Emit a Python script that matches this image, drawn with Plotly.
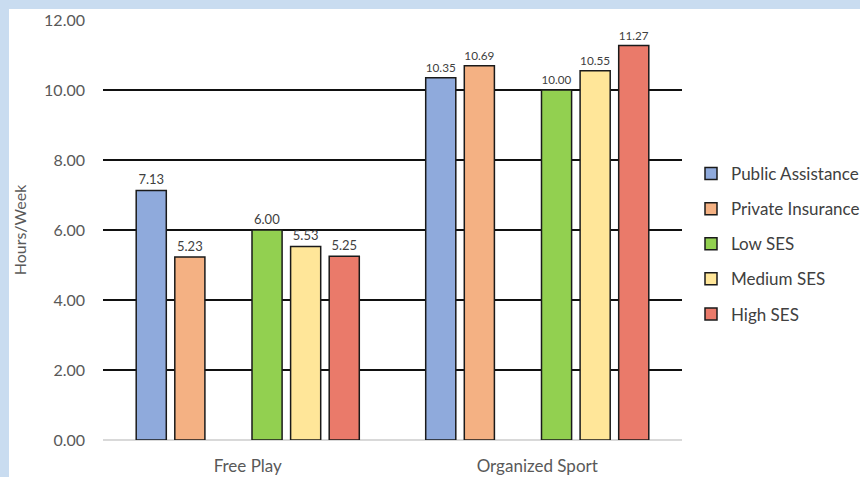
import plotly.graph_objects as go

categories = ["Free Play", "Organized Sport"]
series_names = ["Public Assistance", "Private Insurance", "Low SES", "Medium SES", "High SES"]
public_assistance = [7.13, 10.35]
private_insurance = [5.23, 10.69]
low_ses = [6.00, 10.00]
medium_ses = [5.53, 10.55]
high_ses = [5.25, 11.27]
colors = ["#8faadc", "#f4b183", "#92d050", "#ffe699", "#ea7a6a"]
y_ticks = [0, 2, 4, 6, 8, 10, 12]

series_values = [public_assistance, private_insurance, low_ses, medium_ses, high_ses]

fig = go.Figure()
order = [0, 1, None, 2, 3, 4]
for idx in order:
    if idx is None:
        fig.add_trace(go.Bar(x=categories, y=[None, None], showlegend=False,
                             hoverinfo="skip", name="", legendgroup="blank"))
        continue
    fig.add_trace(go.Bar(
        x=categories, y=series_values[idx], name=series_names[idx],
        legendgroup=f"g{idx}",
        marker=dict(color=colors[idx], line=dict(color="#1a1a1a", width=1.5)),
        text=[f"{v:.2f}" for v in series_values[idx]],
        textposition="outside", cliponaxis=False,
        textfont=dict(size=13, color="#404040", family="Lato"),
    ))

W, H = 860, 477
L, R, T, B = 103, 178, 20, 37
pw, ph = W - L - R, H - T - B

fig.add_shape(type="rect", xref="paper", yref="paper", layer="below",
              x0=(9 - L) / pw, x1=(W + 20 - L) / pw,
              y0=-(B + 20) / ph, y1=(H - B - 9) / ph,
              fillcolor="white", line=dict(width=0))

fig.update_layout(
    width=W, height=H,
    margin=dict(l=L, r=R, t=T, b=B, autoexpand=False),
    paper_bgcolor="#c9dcf0", plot_bgcolor="rgba(0,0,0,0)",
    barmode="group", bargap=0.2, bargroupgap=0.22,
    font=dict(family="Lato", size=16, color="#595959"),
    showlegend=True,
    legend=dict(x=(691 - L) / pw, y=(440 - 244) / ph, xanchor="left", yanchor="middle",
                font=dict(size=17, color="#404040"), tracegroupgap=10,
                itemwidth=30, bgcolor="rgba(0,0,0,0)", traceorder="grouped"),
    xaxis=dict(showgrid=False, showline=False, ticks="", ticklabelstandoff=14,
               tickfont=dict(size=17, color="#595959")),
    yaxis=dict(range=[0, 12], tickvals=y_ticks, tickformat=".2f",
               showgrid=True, gridcolor="#111111", gridwidth=1.5,
               zeroline=True, zerolinecolor="#d9d9d9", zerolinewidth=1.5,
               ticklabelstandoff=17,
               tickfont=dict(size=16, color="#595959"),
               title=dict(text="Hours/Week", standoff=13, font=dict(size=16, color="#595959"))),
)

fig.write_html("out.html")
